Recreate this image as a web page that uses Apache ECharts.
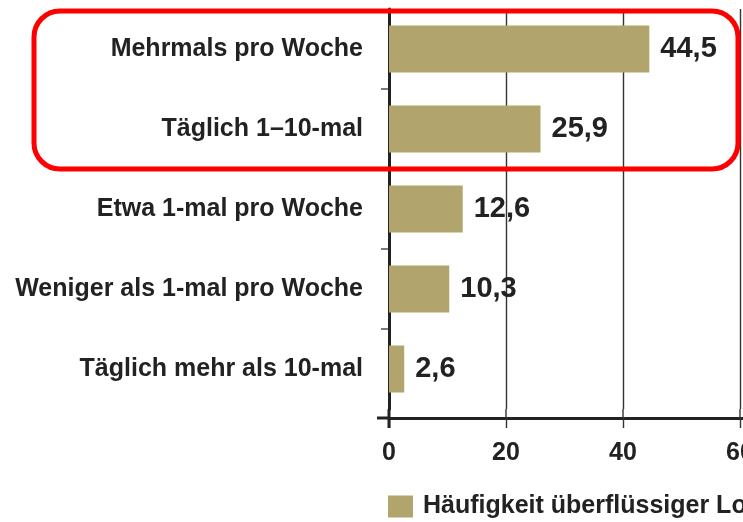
<!DOCTYPE html>
<html>
<head>
<meta charset="utf-8">
<script src="https://cdn.jsdelivr.net/npm/echarts@6/dist/echarts.min.js"></script>
<style>
  html, body { margin: 0; padding: 0; background: #fff; }
  #chart { width: 743px; height: 522px; }
</style>
</head>
<body>
<div id="chart"></div>
<script>
var categories = ['Mehrmals pro Woche', 'Täglich 1–10-mal', 'Etwa 1-mal pro Woche', 'Weniger als 1-mal pro Woche', 'Täglich mehr als 10-mal'];
var values = [44.5, 25.9, 12.6, 10.3, 2.6];
var seriesName = 'Häufigkeit überflüssiger Logins';
var xTicks = { min: 0, max: 70, interval: 20 };

var font = "'Liberation Sans', Arial, Helvetica, sans-serif";
var ink = '#222';
var gridLeft = 389, gridTop = 9, gridHeight = 400, axisOffset = 9;
var pxPerUnit = 5.85;

var myChart = echarts.init(document.getElementById('chart'));
var option = {
    animation: false,
    backgroundColor: '#fff',
    grid: {
        left: gridLeft,
        top: gridTop,
        height: gridHeight,
        width: (xTicks.max - xTicks.min) * pxPerUnit,
        containLabel: false,
        outerBoundsMode: 'none'
    },
    legend: {
        left: 388,
        top: 494,
        padding: 0,
        itemWidth: 25,
        itemHeight: 22,
        icon: 'rect',
        textStyle: { fontFamily: font, fontSize: 25, fontWeight: 'bold', color: ink, padding: [0, 0, 0, 5] },
        data: [seriesName]
    },
    xAxis: {
        type: 'value',
        min: xTicks.min, max: xTicks.max, interval: xTicks.interval,
        offset: axisOffset,
        axisLine: { show: true, lineStyle: { color: ink, width: 3 } },
        axisTick: { show: true, length: 10, lineStyle: { color: '#333', width: 1.4 } },
        splitLine: { show: true, lineStyle: { color: '#333', width: 1.4 } },
        axisLabel: { fontFamily: font, fontSize: 25, fontWeight: 'bold', color: ink, margin: 23 }
    },
    yAxis: {
        type: 'category',
        data: categories,
        inverse: true,
        axisLine: { show: true, lineStyle: { color: ink, width: 3 } },
        axisTick: { show: false },
        axisLabel: { fontFamily: font, fontSize: 25, fontWeight: 'bold', color: ink, margin: 26 }
    },
    series: [
        {
            name: seriesName,
            type: 'bar',
            data: values,
            barWidth: 47,
            itemStyle: { color: '#b1a56d' },
            label: {
                show: true,
                position: 'right',
                distance: 11,
                fontFamily: font,
                fontSize: 29,
                fontWeight: 'bold',
                color: ink,
                formatter: function (p) { return String(p.value).replace('.', ','); }
            }
        }
    ]
};
myChart.setOption(option);

// axis decorations: gridline run-down to the offset axis, ticks between categories,
// axis line overhangs, red highlight box
var x0 = myChart.convertToPixel({ xAxisIndex: 0 }, 0);
var gridBottom = gridTop + gridHeight;
var axisY = gridBottom + axisOffset;
var decor = [
    { type: 'line', shape: { x1: x0, y1: gridBottom, x2: x0, y2: axisY + 10 }, style: { stroke: ink, lineWidth: 3 }, z: 10 },
    { type: 'line', shape: { x1: x0 - 12, y1: axisY, x2: x0, y2: axisY }, style: { stroke: ink, lineWidth: 3 }, z: 10 }
];
for (var v = xTicks.min + xTicks.interval; v < xTicks.max; v += xTicks.interval) {
    var xv = myChart.convertToPixel({ xAxisIndex: 0 }, v);
    decor.push({ type: 'line', shape: { x1: xv, y1: gridBottom, x2: xv, y2: axisY }, style: { stroke: '#333', lineWidth: 1.4 }, z: 5 });
}
for (var i = 0; i < categories.length - 1; i++) {
    var yb = (myChart.convertToPixel({ yAxisIndex: 0 }, categories[i]) + myChart.convertToPixel({ yAxisIndex: 0 }, categories[i + 1])) / 2;
    decor.push({ type: 'line', shape: { x1: x0 - 8, y1: yb, x2: x0, y2: yb }, style: { stroke: '#333', lineWidth: 1.3 }, z: 10 });
}
decor.push({ type: 'rect', shape: { x: 34, y: 11, width: 704, height: 158, r: 26 }, style: { fill: 'none', stroke: '#ff0000', lineWidth: 5 }, z: 20 });
myChart.setOption({ graphic: decor });
</script>
</body>
</html>
